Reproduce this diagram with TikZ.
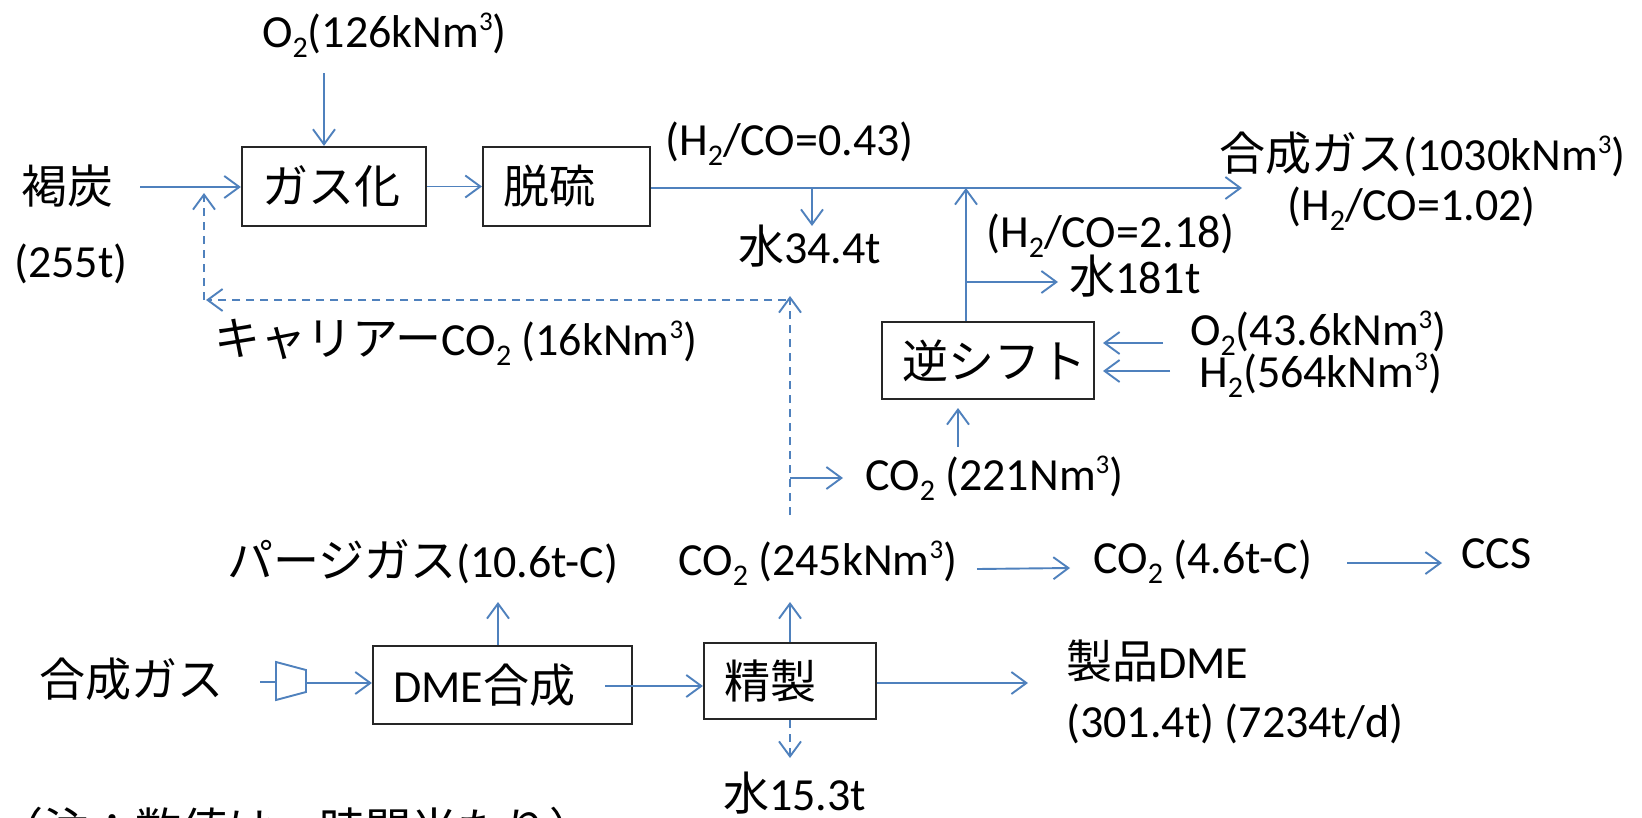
\documentclass[tikz,border=0pt]{standalone}
\usepackage{fontspec}
\setmainfont{Carlito}
\newfontfamily\jp{Noto Sans CJK JP}
\usetikzlibrary{arrows.meta}
\definecolor{flow}{RGB}{79,129,189}
\newcommand\mysub[1]{\raisebox{-0.22em}{\fontsize{30pt}{30pt}\selectfont #1}}
\newcommand\mysup[1]{\raisebox{0.36em}{\fontsize{27pt}{27pt}\selectfont #1}}
\begin{document}
\begin{tikzpicture}[x=1pt,y=-1pt,
  lbl/.style={anchor=base west,inner sep=0pt,font=\fontsize{46pt}{55pt}\selectfont},
  proc/.style={draw=black!85,line width=2.2pt,inner xsep=20pt,inner ysep=0pt,align=left,font=\fontsize{46pt}{55pt}\selectfont},
  flowline/.style={draw=flow,line width=1.9pt},
  arr/.style={flowline,-{Straight Barb[length=15pt,width=22pt]}},
  darr/.style={arr,dash pattern=on 8pt off 6pt}]
\fill[white] (0,0) rectangle (1642,817);
\useasboundingbox (0,0) rectangle (1642,817);
\clip (0,0) rectangle (1642,817);

% labels
\node[lbl] (o2a) at (262,47) {O\mysub{2}(126kNm\mysup{3})};
\node[lbl] (coal) at (21,203) {\jp 褐炭};
\node[lbl] (coalq) at (14,277) {(255t)};
\node[lbl] (r043) at (665,155) {(H\mysub{2}/CO=0.43)};
\node[lbl] (w344) at (738,263) {{\jp 水}34.4t};
\node[lbl] (syn) at (1219,170) {{\jp 合成ガス}(1030kNm\mysup{3})};
\node[lbl] (r102) at (1287,220) {(H\mysub{2}/CO=1.02)};
\node[lbl] (r218) at (986,247) {(H\mysub{2}/CO=2.18)};
\node[lbl] (w181) at (1069,293) {{\jp 水}181t};
\node[lbl] (o2b) at (1190,345) {O\mysub{2}(43.6kNm\mysup{3})};
\node[lbl] (h2) at (1199,387) {H\mysub{2}(564kNm\mysup{3})};
\node[lbl] (carrier) at (214,355) {{\jp キャリアー}CO\mysub{2} (16kNm\mysup{3})};
\node[lbl] (co221) at (865,490) {CO\mysub{2} (221Nm\mysup{3})};
\node[lbl] (purge) at (227,577) {{\jp パージガス}(10.6t-C)};
\node[lbl] (co245) at (678,575) {CO\mysub{2} (245kNm\mysup{3})};
\node[lbl] (co46) at (1093,573) {CO\mysub{2} (4.6t-C)};
\node[lbl] (ccs) at (1461,568) {CCS};
\node[lbl] (synin) at (39,696) {\jp 合成ガス};
\node[lbl] (prod) at (1066,678) {{\jp 製品}DME};
\node[lbl] (prodq) at (1066,737) {(301.4t) (7234t/d)};
\node[lbl] (w153) at (723,810) {{\jp 水}15.3t};
\node[lbl] (note) at (-3,846) {\jp （注：数値は一時間当たり）};

% process boxes
\node[proc,text width=144pt,minimum height=79pt] (gas) at (334,186.5) {\jp ガス化};
\node[proc,text width=127pt,minimum height=79pt] (dsul) at (566.5,186.5) {\jp 脱硫};
\node[proc,text width=172pt,minimum height=77pt] (rsh) at (988,360.5) {\jp 逆シフト};
\node[proc,text width=219pt,minimum height=78pt] (dme) at (502.5,685) {DME{\jp 合成}};
\node[proc,text width=132pt,minimum height=76pt] (pur) at (790,681) {\jp 精製};

% coordinates
\coordinate (o2a-s) at (324,73);
\coordinate (coal-e) at (140,187);
\coordinate (mainend) at (1242,188);
\coordinate (wdrop) at (812,188);
\coordinate (wdrop-e) at (812,226);
\coordinate (rsh-top) at (966,188);
\coordinate (b181s) at (966,282);
\coordinate (b181e) at (1058,282);
\coordinate (o2b-s) at (1163,343);
\coordinate (o2b-e) at (1103,343);
\coordinate (h2-s) at (1170,371);
\coordinate (h2-e) at (1103,371);
\coordinate (c221-s) at (958,447);
\coordinate (c221-e) at (958,408);
\coordinate (dv-s) at (790,515);
\coordinate (dv-e) at (790,296);
\coordinate (dh-s) at (786,300);
\coordinate (dh-e) at (206,300);
\coordinate (dl-s) at (204,300);
\coordinate (dl-e) at (204,193);
\coordinate (br-s) at (790,478);
\coordinate (br-e) at (843,478);
\coordinate (pur-up) at (790,602);
\coordinate (dme-up) at (498,602);
\coordinate (dp-s) at (605,686);
\coordinate (prod-e) at (1028,683);
\coordinate (w153-e) at (790,758);
\coordinate (c245-s) at (977,569);
\coordinate (c245-e) at (1070,568);
\coordinate (ccs-s) at (1347,563);
\coordinate (ccs-e) at (1442,563);
\coordinate (cmp-a) at (260,682);
\coordinate (cmp-b) at (276,682);
\coordinate (cmp-out) at (306,683);

% connectors
\draw[arr] (o2a-s) -- (o2a-s |- gas.north);
\draw[arr] (coal-e) -- (coal-e -| gas.west);
\draw[arr] (gas.east) -- (dsul.west);
\draw[arr] (dsul.east |- mainend) -- (mainend);
\draw[arr] (wdrop) -- (wdrop-e);
\draw[arr] (rsh.north -| rsh-top) -- (rsh-top);
\draw[arr] (b181s) -- (b181e);
\draw[arr] (o2b-s) -- (o2b-e);
\draw[arr] (h2-s) -- (h2-e);
\draw[arr] (c221-s) -- (c221-e);
\draw[darr] (dv-s) -- (dv-e);
\draw[darr] (dh-s) -- (dh-e);
\draw[darr] (dl-s) -- (dl-e);
\draw[arr] (br-s) -- (br-e);
\draw[arr] (pur.north) -- (pur-up);
\draw[arr] (dme.north -| dme-up) -- (dme-up);
\draw[arr] (dp-s) -- (dp-s -| pur.west);
\draw[arr] (pur.east |- prod-e) -- (prod-e);
\draw[darr] (pur.south) -- (w153-e);
\draw[arr] (c245-s) -- (c245-e);
\draw[arr] (ccs-s) -- (ccs-e);
% compressor
\draw[flowline] (cmp-a) -- (cmp-b);
\draw[flowline] (276,662) -- (306,670) -- (306,692) -- (276,700) -- cycle;
\draw[arr] (cmp-out) -- (cmp-out -| dme.west);
\end{tikzpicture}
\end{document}
